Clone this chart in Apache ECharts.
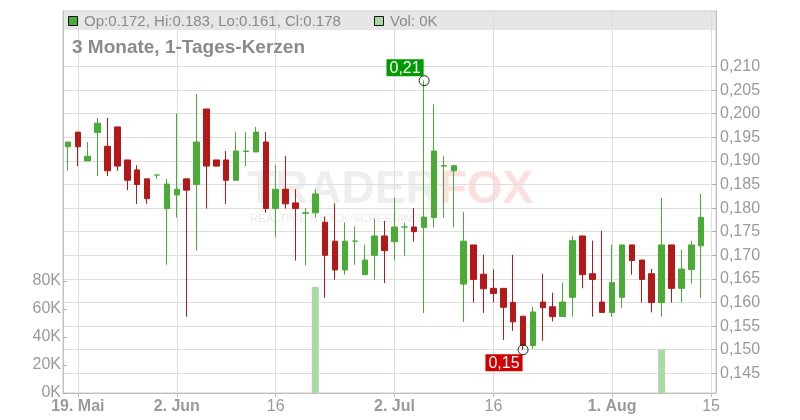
<!DOCTYPE html>
<html><head><meta charset="utf-8">
<script src="https://cdn.jsdelivr.net/npm/echarts@6/dist/echarts.min.js"></script>
<style>html,body{margin:0;padding:0;background:#fff}#c{width:800px;height:420px}</style>
</head><body><div id="c"></div>
<script>
const dates = [
'2025-05-16',
'2025-05-19','2025-05-20','2025-05-21','2025-05-22','2025-05-23',
'2025-05-26','2025-05-27','2025-05-28','2025-05-29','2025-05-30',
'2025-06-02','2025-06-03','2025-06-04','2025-06-05','2025-06-06',
'2025-06-09','2025-06-10','2025-06-11','2025-06-12','2025-06-13',
'2025-06-16','2025-06-17','2025-06-18','2025-06-19','2025-06-20',
'2025-06-23','2025-06-24','2025-06-25','2025-06-26','2025-06-27',
'2025-06-30','2025-07-01','2025-07-02','2025-07-03','2025-07-04',
'2025-07-07','2025-07-08','2025-07-09','2025-07-10','2025-07-11',
'2025-07-14','2025-07-15','2025-07-16','2025-07-17','2025-07-18',
'2025-07-21','2025-07-22','2025-07-23','2025-07-24','2025-07-25',
'2025-07-28','2025-07-29','2025-07-30','2025-07-31','2025-08-01',
'2025-08-04','2025-08-05','2025-08-06','2025-08-07','2025-08-08',
'2025-08-11','2025-08-12','2025-08-13','2025-08-14','2025-08-15'
];
const opens = [
0.1930,0.1961,0.1900,0.1960,0.1931,0.1972,0.1902,0.1881,0.1862,0.1870,
0.1799,0.1828,0.1862,0.1850,0.2010,0.1902,0.1902,0.1859,0.1920,0.1919,
0.1940,0.1799,0.1840,0.1811,0.1789,0.1790,0.1770,0.1730,0.1669,0.1730,
0.1659,0.1700,0.1741,0.1729,0.1760,0.1760,0.1759,0.1780,0.1889,0.1879,
0.1639,0.1722,0.1660,0.1630,0.1630,0.1600,0.1571,0.1509,0.1601,0.1591,
0.1570,0.1611,0.1741,0.1661,0.1601,0.1579,0.1611,0.1722,0.1690,0.1661,
0.1600,0.1722,0.1630,0.1670,0.1720
];
const highs = [
0.1940,0.1961,0.1940,0.1991,0.1991,0.1972,0.1902,0.1891,0.1862,0.1870,
0.1862,0.2001,0.1862,0.2042,0.2010,0.1902,0.1921,0.1961,0.1961,0.1972,
0.1961,0.1891,0.1910,0.1840,0.1800,0.1840,0.1782,0.1810,0.1770,0.1761,
0.1722,0.1778,0.1773,0.1822,0.1769,0.1800,0.2070,0.2020,0.1910,0.1890,
0.1792,0.1722,0.1701,0.1670,0.1630,0.1701,0.1571,0.1591,0.1661,0.1621,
0.1642,0.1741,0.1741,0.1731,0.1752,0.1722,0.1722,0.1722,0.1690,0.1671,
0.1822,0.1722,0.1712,0.1731,0.1830
];
const lows = [
0.1879,0.1889,0.1900,0.1868,0.1868,0.1879,0.1838,0.1809,0.1809,0.1862,
0.1680,0.1780,0.1570,0.1710,0.1799,0.1889,0.1809,0.1859,0.1889,0.1919,
0.1790,0.1739,0.1799,0.1689,0.1679,0.1780,0.1610,0.1648,0.1659,0.1680,
0.1659,0.1648,0.1641,0.1689,0.1699,0.1729,0.1578,0.1759,0.1780,0.1759,
0.1559,0.1600,0.1578,0.1600,0.1521,0.1540,0.1500,0.1502,0.1519,0.1560,
0.1570,0.1570,0.1630,0.1570,0.1579,0.1570,0.1589,0.1659,0.1600,0.1579,
0.1570,0.1600,0.1600,0.1640,0.1610
];
const closes = [
0.1940,0.1930,0.1910,0.1980,0.1879,0.1889,0.1859,0.1850,0.1820,0.1870,
0.1851,0.1840,0.1838,0.1940,0.1889,0.1889,0.1859,0.1921,0.1921,0.1961,
0.1799,0.1840,0.1809,0.1799,0.1790,0.1830,0.1700,0.1669,0.1730,0.1730,
0.1690,0.1741,0.1710,0.1760,0.1760,0.1750,0.1781,0.1921,0.1890,0.1890,
0.1730,0.1649,0.1629,0.1619,0.1590,0.1559,0.1509,0.1580,0.1589,0.1570,
0.1601,0.1731,0.1659,0.1649,0.1579,0.1642,0.1722,0.1689,0.1649,0.1600,
0.1722,0.1630,0.1671,0.1722,0.1780
];
const volumes = [
0,0,0,0,0,0,0,0,0,0,
0,0,0,0,0,0,0,0,0,0,
0,0,0,0,0,75700,0,0,0,0,
0,0,0,0,0,0,0,0,0,0,
0,0,0,0,0,0,0,0,0,0,
0,0,0,0,0,0,0,0,0,0,
31000,0,0,0,0,0
];
const tickDates = ['2025-05-19','2025-06-02','2025-06-16','2025-07-02','2025-07-16','2025-08-01','2025-08-15'];
const tickLabels = ['19. Mai','2. Jun','16','2. Jul','16','1. Aug','15'];
const tickBold = [true,true,false,true,false,true,false];
const priceTicks = [0.145,0.150,0.155,0.160,0.165,0.170,0.175,0.180,0.185,0.190,0.195,0.200,0.205,0.210];
const volTicks = [0,20000,40000,60000,80000];

const FONT = '"Liberation Sans", Arial, sans-serif';
const UP = '#4aab36', DOWN = '#b31919', VOL = '#a8dba4';
const candleData = opens.map((o, i) => [o, closes[i], lows[i], highs[i]]);
const last = opens.length - 1;
const legendText = 'Op:' + opens[last].toFixed(3) + ', Hi:' + highs[last].toFixed(3) +
  ', Lo:' + lows[last].toFixed(3) + ', Cl:' + closes[last].toFixed(3);
const volText = 'Vol: ' + Math.round(volumes[last] / 1000) + 'K';
const tickSet = new Set(tickDates);
const showTick = (idx, val) => tickSet.has(val !== undefined ? val : dates[idx]);

const chart = echarts.init(document.getElementById('c'), null, {renderer: 'canvas'});
chart.setOption({
  animation: false,
  backgroundColor: '#fff',
  textStyle: {fontFamily: FONT},
  grid: {left: 63, right: 84, top: 11, bottom: 27, show: true, borderColor: '#c8c8c8', borderWidth: 1},
  xAxis: {
    type: 'category', data: dates, boundaryGap: true,
    axisLine: {show: true, lineStyle: {color: '#c0c0c0'}},
    axisTick: {show: true, alignWithLabel: true, interval: showTick, length: 4, lineStyle: {color: '#c0c0c0'}},
    splitLine: {show: true, alignWithLabel: true, interval: showTick, lineStyle: {color: '#dedede'}},
    axisLabel: {
      interval: showTick, margin: 6,
      formatter: v => { const k = tickDates.indexOf(v); if (k < 0) return ''; return (tickBold[k] ? '{b|' : '{n|') + tickLabels[k] + '}'; },
      rich: {
        b: {fontWeight: 'bold', fontSize: 16, color: '#9a9a9a', fontFamily: FONT},
        n: {fontSize: 16, color: '#9a9a9a', fontFamily: FONT}
      }
    }
  },
  yAxis: [{
    type: 'value', position: 'right', min: 0.14083, max: 0.22176, scale: true,
    axisLine: {show: true, lineStyle: {color: '#c0c0c0'}},
    axisTick: {show: true, inside: true, length: 4, customValues: priceTicks, lineStyle: {color: '#b0b0b0'}},
    axisLabel: {customValues: priceTicks, margin: 4, color: '#9a9a9a', fontSize: 16, fontFamily: FONT,
      formatter: v => v.toFixed(3).replace('.', ',')},
    splitLine: {show: true, lineStyle: {color: '#dedede'}}
  }, {
    type: 'value', position: 'left', min: 0, max: 272857,
    axisLine: {show: true, lineStyle: {color: '#c0c0c0'}},
    axisTick: {show: true, inside: true, length: 4, customValues: volTicks, lineStyle: {color: '#b0b0b0'}},
    axisLabel: {customValues: volTicks, margin: 2, color: '#9a9a9a', fontSize: 16, fontFamily: FONT,
      formatter: v => Math.round(v / 1000) + 'K'},
    splitLine: {show: false}
  }],
  graphic: [
    {type: 'rect', z: -1, silent: true, shape: {x: 63.5, y: 11.5, width: 652, height: 18.5}, style: {fill: '#e6e6e6'}},
    {type: 'rect', z: 10, shape: {x: 68.5, y: 16.5, width: 9, height: 9}, style: {fill: UP, stroke: '#111', lineWidth: 1}},
    {type: 'text', z: 10, x: 84, y: 21.5, style: {text: legendText, fill: '#8a8a8a', font: '15px ' + FONT, verticalAlign: 'middle'}},
    {type: 'rect', z: 10, shape: {x: 374.5, y: 16.5, width: 9, height: 9}, style: {fill: VOL, stroke: '#111', lineWidth: 1}},
    {type: 'text', z: 10, x: 390, y: 21.5, style: {text: volText, fill: '#8a8a8a', font: '15px ' + FONT, verticalAlign: 'middle'}},
    {type: 'text', z: 10, x: 72, y: 48, style: {text: '3 Monate, 1-Tages-Kerzen', fill: '#8a8a8a', font: 'bold 19px ' + FONT, verticalAlign: 'middle'}},
    {type: 'text', z: 0, silent: true, x: 247, y: 190, style: {
      text: '{a|TRADER}{b|FOX}', verticalAlign: 'middle',
      rich: {
        a: {fontSize: 46, fontWeight: 'bold', fontFamily: FONT, fill: 'rgba(200,200,200,0.3)'},
        b: {fontSize: 46, fontWeight: 'bold', fontFamily: FONT, fill: 'rgba(245,140,140,0.28)'}
      }}},
    {type: 'text', z: 0, silent: true, x: 250, y: 219, style: {text: 'REALTIME STOCK SCREENING', fill: 'rgba(200,200,200,0.4)', font: '11.5px ' + FONT, verticalAlign: 'middle'}}
  ],
  series: [{
    type: 'bar', xAxisIndex: 0, yAxisIndex: 1, data: volumes, barWidth: 7,
    itemStyle: {color: VOL}, z: 1
  }, {
    type: 'candlestick', xAxisIndex: 0, yAxisIndex: 0, data: candleData, barWidth: 6,
    itemStyle: {color: UP, color0: DOWN, borderColor: UP, borderColor0: DOWN, borderWidth: 1},
    z: 3,
    markPoint: {
      symbol: 'circle', symbolSize: 10,
      itemStyle: {color: 'rgba(0,0,0,0)', borderColor: '#222', borderWidth: 1},
      label: {show: true, color: '#fff', fontSize: 16, fontFamily: FONT, padding: [1, 3, 0, 3],
        formatter: p => p.value.toFixed(2).replace('.', ',')},
      data: [
        {type: 'max', valueDim: 'highest', label: {position: [5, 1], align: 'right', verticalAlign: 'bottom', backgroundColor: '#009a00'}},
        {type: 'min', valueDim: 'lowest', label: {position: [5, 10], align: 'right', verticalAlign: 'top', backgroundColor: '#d00000'}}
      ]
    }
  }]
});
</script></body></html>
